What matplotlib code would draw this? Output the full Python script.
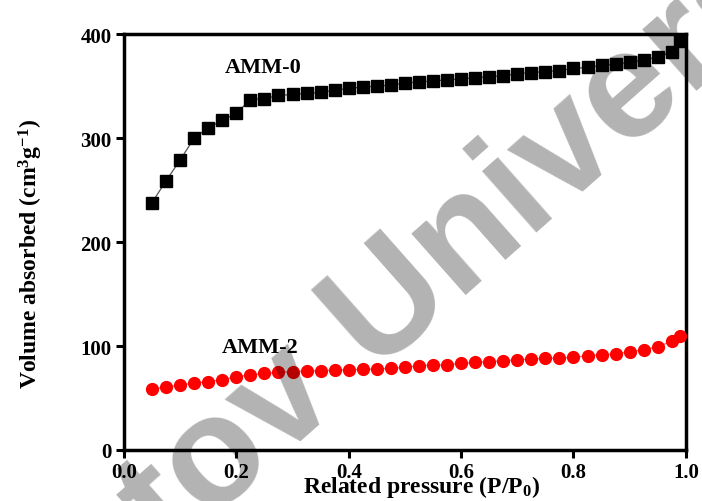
import numpy as np
import matplotlib
matplotlib.use('Agg')
import matplotlib.pyplot as plt

plt.rcParams['font.family'] = ['Liberation Serif', 'DejaVu Serif']
plt.rcParams['font.weight'] = 'bold'
plt.rcParams['mathtext.fontset'] = 'custom'
plt.rcParams['mathtext.rm'] = 'Liberation Serif:bold'
plt.rcParams['mathtext.it'] = 'Liberation Serif:bold:italic'
plt.rcParams['mathtext.bf'] = 'Liberation Serif:bold'
plt.rcParams['mathtext.default'] = 'rm'

# relative pressure (P/P0)
p = [0.05, 0.075, 0.1, 0.125, 0.15, 0.175, 0.2, 0.225, 0.25, 0.275,
     0.3, 0.325, 0.35, 0.375, 0.4, 0.425, 0.45, 0.475, 0.5, 0.525,
     0.55, 0.575, 0.6, 0.625, 0.65, 0.675, 0.7, 0.725, 0.75, 0.775,
     0.8, 0.825, 0.85, 0.875, 0.9, 0.925, 0.95, 0.975, 0.99]

# volume absorbed (cm3/g)
amm0 = [238, 259, 279, 300, 310, 317, 324, 337, 338, 341,
        342, 343, 344, 346, 348, 349, 350, 351, 353, 354,
        355, 356, 357, 358, 359, 360, 362, 363, 364, 365,
        367, 368, 370, 371, 373, 375, 378, 383, 393]
amm2 = [58.7, 60.3, 62.5, 64.4, 65.7, 67.6, 70.5, 72.1, 73.7, 74.7,
        75.3, 76.0, 76.3, 76.9, 77.2, 77.6, 77.9, 78.5, 79.5, 81.1,
        81.7, 82.0, 83.3, 84.3, 84.9, 85.9, 86.9, 87.5, 88.1, 88.5,
        89.1, 90.7, 91.7, 92.3, 94.5, 96.5, 99.4, 104.5, 109.3]

xticks = [0.0, 0.2, 0.4, 0.6, 0.8, 1.0]
yticks = [0, 100, 200, 300, 400]

fig = plt.figure(figsize=(7.02, 5.02), dpi=100)
ax = fig.add_axes([0.1766, 0.1016, 0.8004, 0.8284])

ax.plot(p, amm0, color='#555555', lw=0.9, marker='s', ms=8,
        mfc='black', mec='black', zorder=3)
ax.plot(p, amm2, color='#ff6666', lw=0.9, marker='o', ms=8.5,
        mfc='#ff0000', mec='#ff0000', zorder=3)

ax.text(0.247, 368, 'AMM-0', fontsize=16, fontweight='bold', ha='center', va='center')
ax.text(0.242, 99, 'AMM-2', fontsize=16, fontweight='bold', ha='center', va='center')

ax.set_xlim(0, 1.0)
ax.set_ylim(0, 400)
ax.set_xticks(xticks)
ax.set_xticklabels([f'{v:.1f}' for v in xticks])
ax.set_yticks(yticks)
ax.tick_params(direction='out', length=6, width=2.2, labelsize=15, pad=3)
for sp in ax.spines.values():
    sp.set_linewidth(2.5)

ax.set_xlabel(r'Related pressure (P/P$_0$)', fontsize=17, fontweight='bold')
ax.xaxis.set_label_coords(0.529, -0.056)
ax.set_ylabel(r'Volume absorbed (cm$^{3}$g$^{-1}$)', fontsize=17, fontweight='bold')
ax.yaxis.set_label_coords(-0.14, 0.474)

# watermark
fig.text(0.593, 0.430, 'Rostov University', fontsize=111, family='Liberation Sans',
         color='black', alpha=0.3, rotation=41.5, ha='center', va='center',
         rotation_mode='anchor', zorder=10)

fig.savefig('out.png', dpi=100)
